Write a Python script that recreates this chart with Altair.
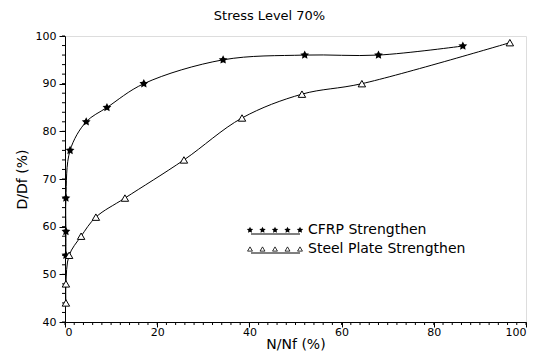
import math
import altair as alt
import pandas as pd

# ---- data ----
cfrp_x = [0.2, 0.2, 0.2, 1.1, 4.6, 9.1, 17.1, 34.3, 52.0, 68.0, 86.3]
cfrp_y = [54.0, 59.0, 66.0, 76.0, 82.0, 85.0, 90.0, 95.0, 96.0, 96.0, 97.9]
steel_x = [0.2, 0.2, 0.9, 3.5, 6.7, 13.0, 25.8, 38.4, 51.4, 64.4, 96.5]
steel_y = [44.0, 48.0, 54.0, 58.0, 62.0, 66.0, 74.0, 82.8, 87.8, 90.0, 98.6]
series_names = ["CFRP  Strengthen", "Steel  Plate  Strengthen"]
x_ticks = [0, 20, 40, 60, 80, 100]
y_ticks = [40, 50, 60, 70, 80, 90, 100]
x_minor = list(range(0, 101, 2))
y_minor = list(range(40, 101, 2))

FONT = "DejaVu Sans"
W, H = 461, 286

# star path in [-1,1]
pts = []
for k in range(10):
    a = math.radians(-90 + 36 * k)
    r = 1.0 if k % 2 == 0 else 0.5
    pts.append((r * math.cos(a), r * math.sin(a)))
STAR = "M" + "L".join(f"{px:.3f},{py:.3f}" for px, py in pts) + "Z"

cfrp = pd.DataFrame({"x": cfrp_x, "y": cfrp_y, "s": series_names[0]})
steel = pd.DataFrame({"x": steel_x, "y": steel_y, "s": series_names[1]})

xs = alt.Scale(domain=[0, 100], nice=False, zero=False)
ys = alt.Scale(domain=[40, 100], nice=False, zero=False)

X = alt.X("x:Q", scale=xs, axis=alt.Axis(values=x_ticks, title="N/Nf  (%)", grid=False,
          tickSize=5, labelPadding=-1, titlePadding=0, labelFontSize=11, titleFontSize=14,
          labelFont=FONT, titleFont=FONT, titleFontWeight="normal", domainColor="black",
          tickColor="black", labelColor="black", titleColor="black"))
Y = alt.Y("y:Q", scale=ys, axis=alt.Axis(values=y_ticks, title="D/Df  (%)", grid=False,
          tickSize=6, labelPadding=3, titlePadding=6, labelFontSize=11, titleFontSize=14,
          labelFont=FONT, titleFont=FONT, titleFontWeight="normal", domainColor="black",
          tickColor="black", labelColor="black", titleColor="black"))

def line(df):
    return alt.Chart(df).mark_line(color="black", strokeWidth=1, interpolate="catmull-rom").encode(x=X, y=Y)

cfrp_line = line(cfrp)
steel_line = line(steel)
cfrp_pts = alt.Chart(cfrp).mark_point(shape=STAR, filled=True, color="black", size=85, opacity=1).encode(x=X, y=Y)
steel_pts = alt.Chart(steel).mark_point(shape="triangle-up", filled=True, fill="white", stroke="black",
                                         strokeWidth=1, size=55, opacity=1).encode(x=X, y=Y)

# minor ticks
xm = alt.Chart(pd.DataFrame({"x": x_minor})).mark_rule(color="black", strokeWidth=1).encode(
    x=alt.X("x:Q", scale=xs), y=alt.value(H), y2=alt.value(H + 3))
ym = alt.Chart(pd.DataFrame({"y": y_minor})).mark_rule(color="black", strokeWidth=1).encode(
    y=alt.Y("y:Q", scale=ys), x=alt.value(0), x2=alt.value(-3))

# legend (pixel positions inside the plot)
leg_rows = [194, 213]
leg_m = pd.DataFrame({
    "px": [185 + 12.5 * i for i in range(5)] * 2,
    "py": [leg_rows[0]] * 5 + [leg_rows[1]] * 5,
    "s": [series_names[0]] * 5 + [series_names[1]] * 5,
})
leg_star = alt.Chart(leg_m[leg_m.s == series_names[0]]).mark_point(
    shape=STAR, filled=True, color="black", size=45, opacity=1).encode(
    x=alt.X("px:Q", scale=None), y=alt.Y("py:Q", scale=None))
leg_tri = alt.Chart(leg_m[leg_m.s == series_names[1]]).mark_point(
    shape="triangle-up", filled=True, fill="white", stroke="black", strokeWidth=0.8,
    size=24, opacity=1).encode(
    x=alt.X("px:Q", scale=None), y=alt.Y("py:Q", scale=None))
leg_rule = alt.Chart(pd.DataFrame({"a": [186, 186], "b": [235, 235],
                                   "py": [r + 4 for r in leg_rows]})).mark_rule(
    color="black", strokeWidth=1).encode(
    x=alt.X("a:Q", scale=None), x2="b:Q", y=alt.Y("py:Q", scale=None))
leg_text = alt.Chart(pd.DataFrame({"px": [243, 243], "py": leg_rows, "t": series_names})).mark_text(
    align="left", baseline="middle", font=FONT, fontSize=14, color="black").encode(
    x=alt.X("px:Q", scale=None), y=alt.Y("py:Q", scale=None), text="t:N")

chart = alt.layer(cfrp_line, steel_line, xm, ym, leg_rule, cfrp_pts, steel_pts,
                  leg_star, leg_tri, leg_text).properties(
    width=W, height=H,
    title=alt.TitleParams("Stress  Level  70%", font=FONT, fontSize=13, fontWeight="normal",
                          color="black", dx=-26, offset=7),
    autosize=alt.AutoSizeParams(type="none"),
    padding={"left": 57, "top": 28, "right": 8, "bottom": 31},
).configure_view(stroke="black", strokeWidth=1).configure(background="white")

chart.save("out.html", embed_options={"renderer": "svg", "actions": False})
